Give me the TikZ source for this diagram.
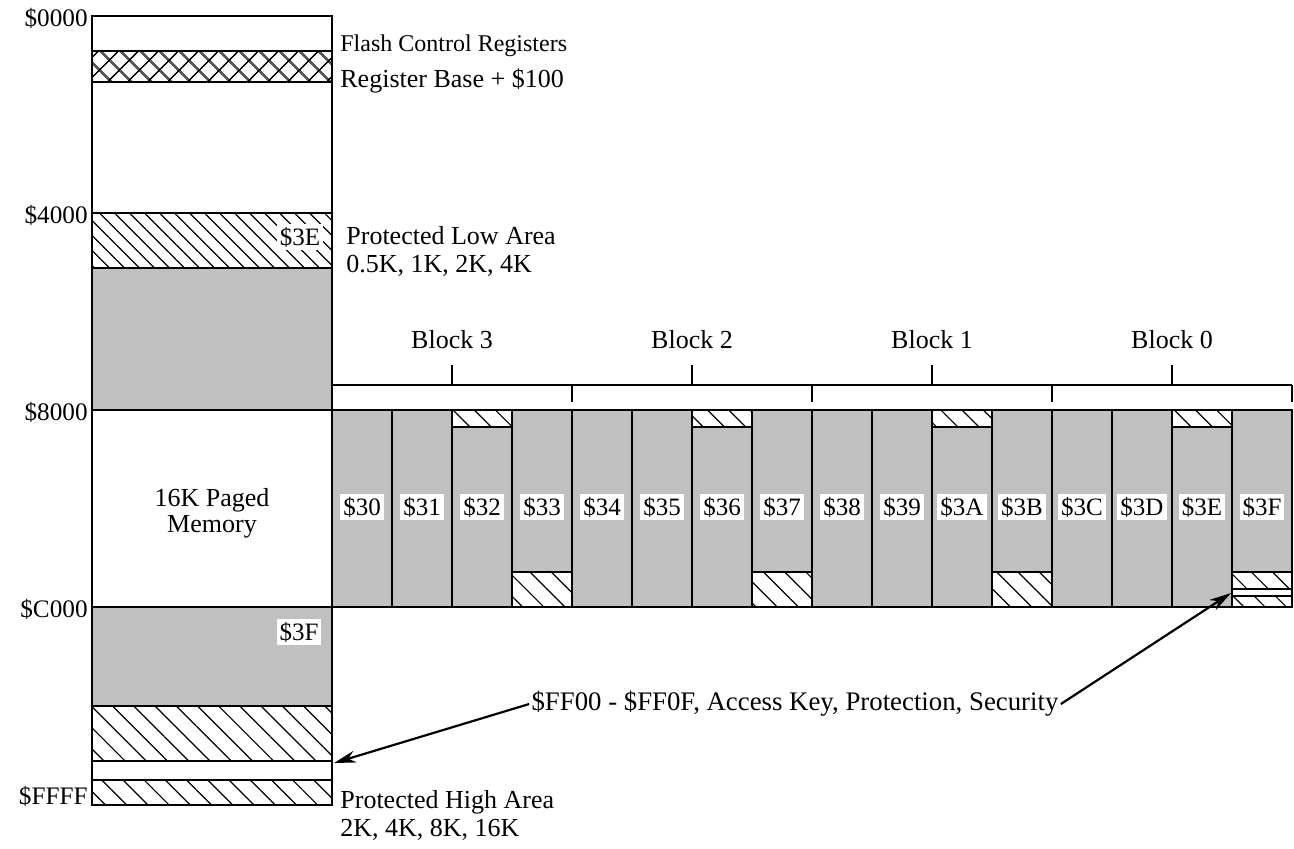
\documentclass[tikz,border=0pt]{standalone}
\usepackage{fontspec}
\setmainfont{Liberation Serif}
\usetikzlibrary{patterns.meta,arrows.meta}
\definecolor{memgray}{HTML}{C0C0C0}
\begin{document}
\begin{tikzpicture}[x=0.5pt,y=-0.5pt,
  font=\fontsize{13}{15}\selectfont,
  frame/.style={draw=black,line width=1.2pt},
  grayfill/.style={fill=memgray},
  hatchfine/.style={pattern={Lines[angle=-45,distance=5.3pt,line width=0.6pt]}},
  hatchwide/.style={pattern={Lines[angle=-45,distance=7.5pt,line width=0.6pt]}},
  crossfill/.style={pattern={Hatch[angle=45,distance=7.4pt,line width=0.9pt]}},
  pagelab/.style={fill=white,inner sep=1.5pt,font=\fontsize{12.5}{14}\selectfont},
  addr/.style={anchor=east,inner sep=0pt,font=\fontsize{12.6}{14}\selectfont},
  note/.style={anchor=west,inner sep=0pt,align=left},
  bracket/.style={draw=black,line width=1pt},
  pointer/.style={draw=black,line width=1.1pt,-{Stealth[length=11pt,width=6pt]}}
]
\useasboundingbox (0,0) rectangle (1294,848);

% ---- linear memory map column ----
\fill[grayfill] (92,268) rectangle (332,410);
\fill[grayfill] (92,607) rectangle (332,706);
\path[crossfill] (92,51) rectangle (332,82);
\path[hatchfine] (92,213) rectangle (332,268);
\path[hatchwide] (92,706) rectangle (332,761);
\path[hatchwide] (92,780) rectangle (332,805);
\draw[frame] (92,16) rectangle (332,805);
\foreach \yy in {51,82,213,268,410,607,706,761,780}
  \draw[frame] (92,\yy) -- (332,\yy);

% address labels
\node[addr] (a0000) at (88,18) {\$0000};
\node[addr] (a4000) at (88,215) {\$4000};
\node[addr] (a8000) at (88,412) {\$8000};
\node[addr] (aC000) at (88,609) {\$C000};
\node[addr] (aFFFF) at (88,796) {\$FFFF};

\node[pagelab] (lo3E) at (300,237) {\$3E};
\node[pagelab] (hi3F) at (299,632) {\$3F};
\node[align=center,inner sep=0pt] (paged) at (212,513) {16K Paged\\[-2pt]Memory};

% side notes
\node[note] (flash) at (340,64) {{\fontsize{12}{14}\selectfont Flash Control Registers}\\[3pt]Register Base + \$100};
\node[note] (plow) at (346,251) {Protected Low Area\\[-1pt]0.5K, 1K, 2K, 4K};
\node[note] (phigh) at (340,815) {Protected High Area\\[-1pt]2K, 4K, 8K, 16K};

% ---- 16 pages of the paged window ----
\foreach \lab [count=\i from 0] in {30,31,32,33,34,35,36,37,38,39,3A,3B,3C,3D,3E,3F} {
  \pgfmathsetmacro{\xa}{332+60*\i}
  \pgfmathsetmacro{\xb}{392+60*\i}
  \pgfmathtruncatemacro{\kind}{mod(\i,4)}
  \ifnum\i=15
    \fill[grayfill] (\xa,410) rectangle (\xb,572);
    \path[hatchwide] (\xa,572) rectangle (\xb,589);
    \path[hatchwide] (\xa,596) rectangle (\xb,607);
    \draw[frame] (\xa,572) -- (\xb,572);
    \draw[frame] (\xa,589) -- (\xb,589);
    \draw[frame] (\xa,596) -- (\xb,596);
  \else\ifnum\kind=2
    \fill[grayfill] (\xa,427) rectangle (\xb,607);
    \path[hatchwide] (\xa,410) rectangle (\xb,427);
    \draw[frame] (\xa,427) -- (\xb,427);
  \else\ifnum\kind=3
    \fill[grayfill] (\xa,410) rectangle (\xb,572);
    \path[hatchwide] (\xa,572) rectangle (\xb,607);
    \draw[frame] (\xa,572) -- (\xb,572);
  \else
    \fill[grayfill] (\xa,410) rectangle (\xb,607);
  \fi\fi\fi
  \draw[frame] (\xa,410) rectangle (\xb,607);
  \node[pagelab] (page\i) at ({(\xa+\xb)/2},507) {\$\lab};
}

% ---- block brackets ----
\draw[bracket] (332,385) -- (1292,385);
\foreach \xx in {332,572,812,1052,1292}
  \draw[bracket] (\xx,385) -- (\xx,402);
\foreach \xx/\blk in {452/3,692/2,932/1,1172/0} {
  \draw[bracket] (\xx,385) -- (\xx,365);
  \node[inner sep=0pt] (block\blk) at (\xx,340) {Block \blk};
}

% ---- security area pointers ----
\node[inner sep=1pt,font=\fontsize{13.4}{15}\selectfont] (keyinfo) at (795,704) {\$FF00 - \$FF0F, Access Key, Protection, Security};
\coordinate (hiTarget) at (334,763);
\coordinate (pgTarget) at (1231,593);
\draw[pointer] (keyinfo.west) -- (hiTarget);
\draw[pointer] (keyinfo.east) -- (pgTarget);
\end{tikzpicture}
\end{document}
